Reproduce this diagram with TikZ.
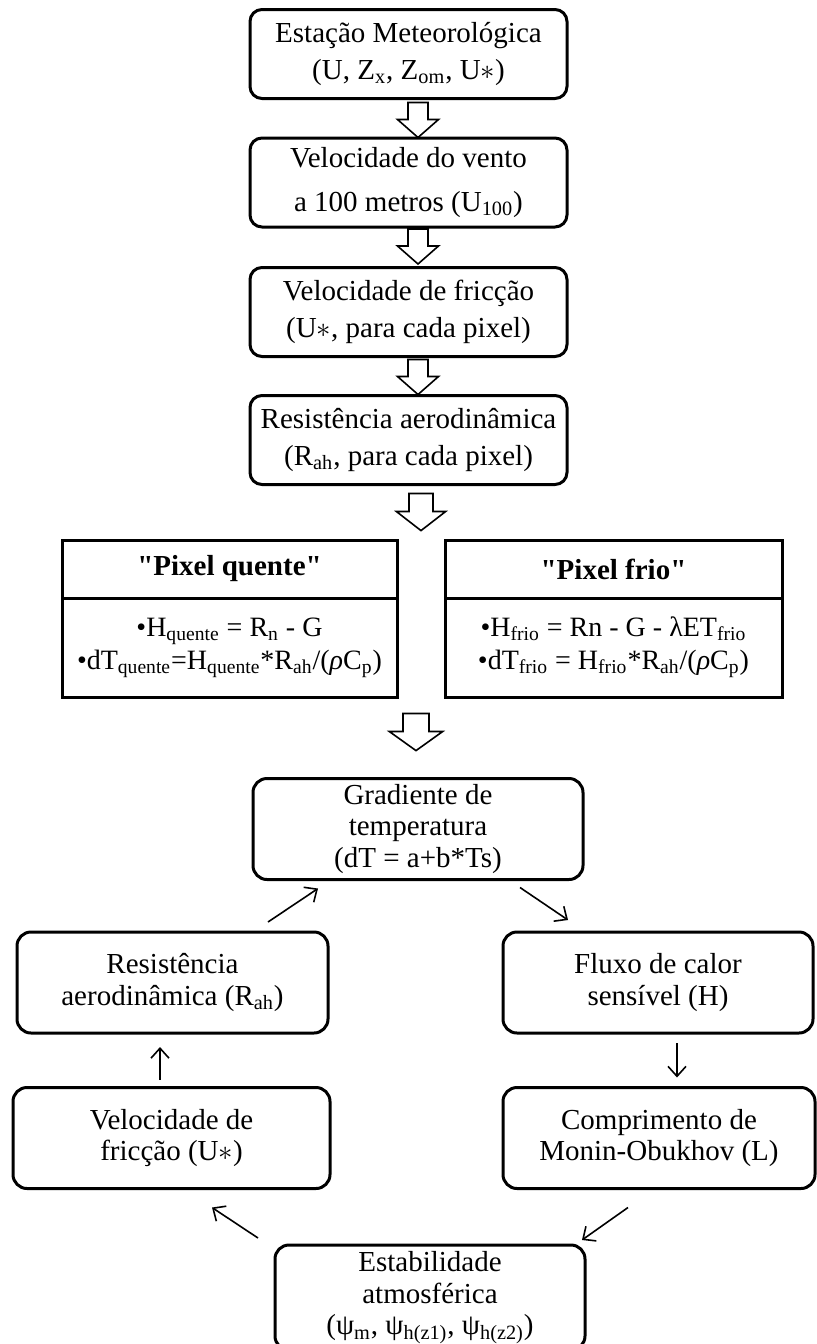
\documentclass[tikz,border=0pt]{standalone}
\usepackage{fontspec}
\setmainfont{Liberation Serif}
\usetikzlibrary{positioning, arrows.meta, calc}

\newcommand{\low}[1]{\textsubscript{#1}}
\newcommand{\ustar}{U$\ast$}

\begin{document}
\begin{tikzpicture}[x=0.5pt, y=-0.5pt]
\tikzset{
	stepbox/.style={draw, line width=1.5pt, rounded corners=6pt, align=center, inner sep=0pt, outer sep=0pt, minimum width=158.5pt, minimum height=44.5pt, font=\fontsize{14.5pt}{18.5pt}\selectfont},
	loopbox/.style={draw, line width=1.5pt, rounded corners=7pt, align=center, inner sep=0pt, outer sep=0pt, minimum height=50.5pt, font=\fontsize{14.5pt}{15.8pt}\selectfont},
	headbox/.style={draw, line width=1.5pt, align=center, inner sep=0pt, outer sep=0pt, minimum height=29pt, font=\bfseries\fontsize{14.5pt}{17pt}\selectfont},
	bodybox/.style={draw, line width=1.5pt, align=center, inner sep=0pt, outer sep=0pt, minimum height=49.5pt, font=\fontsize{14pt}{16.5pt}\selectfont},
	flow/.style={line width=0.8pt, -{Straight Barb[length=5pt, width=9pt]}},
	hollow/.pic={\draw[line width=0.8pt, fill=white] (-10,0) -- (10,0) -- (10,17) -- (20.5,17) -- (0,35) -- (-20.5,17) -- (-10,17) -- cycle;}
}
\useasboundingbox (0,0) rectangle (816,1344);

% coluna de cima
\node[stepbox] (est) at (408.5,54) {Estação Meteorológica\\(U, Z\low{x}, Z\low{om}, \ustar)};
\node[stepbox] (vento) at (408.5,182.5) {Velocidade do vento\\[3.5pt]a 100 metros\ (U\low{100})};
\node[stepbox] (fric) at (408.5,312) {Velocidade de fricção\\(\ustar, para cada pixel)};
\node[stepbox] (res) at (408.5,440) {Resistência aerodinâmica\\(R\low{ah}, para cada pixel)};

\pic at ([xshift=4.75pt,yshift=-2pt]est.south) {hollow};
\pic at ([xshift=4.75pt,yshift=-1pt]vento.south) {hollow};
\pic at ([xshift=4.75pt,yshift=-1.5pt]fric.south) {hollow};
\pic[xscale=1.2, yscale=1.06] at ([xshift=6.25pt,yshift=-4.5pt]res.south) {hollow};

% pixel quente / pixel frio
\node[headbox, minimum width=167.5pt] (qhead) at (229.5,569) {\textquotedbl Pixel quente\textquotedbl};
\node[bodybox, minimum width=167.5pt, below=0pt of qhead] (qbody) {\textbullet H\low{quente} = R\low{n} - G\\\textbullet dT\low{quente}=H\low{quente}*R\low{ah}/(\textit{ρ}C\low{p})};
\node[headbox, minimum width=168.5pt] (fhead) at (613.5,569) {\textquotedbl Pixel frio\textquotedbl};
\node[bodybox, minimum width=168.5pt, below=0pt of fhead] (fbody) {\textbullet H\low{frio} = Rn - G - λET\low{frio}\\\textbullet dT\low{frio} = H\low{frio}*R\low{ah}/(\textit{ρ}C\low{p})};

% ciclo iterativo
\node[loopbox, minimum width=165pt] (grad) at (418,829) {Gradiente de\\temperatura\\(dT = a+b*Ts)};
\node[loopbox, minimum width=155.5pt] (rah) at (172.5,982.5) {Resistência\\aerodinâmica\ (R\low{ah})};
\node[loopbox, minimum width=155pt] (flux) at (658,982.5) {Fluxo de calor\\sensível (H)};
\node[loopbox, minimum width=158.5pt] (vel) at (171.5,1138) {Velocidade de\\fricção (\ustar)};
\node[loopbox, minimum width=156pt] (comp) at (659,1138) {Comprimento de\\Monin-Obukhov (L)};
\node[loopbox, minimum width=155pt, minimum height=52.5pt, anchor=north] (estab) at (430,1245) {Estabilidade\\atmosférica\\(ψ\low{m}, ψ\low{h(z1)}, ψ\low{h(z2)})};

\pic[xscale=1.3, yscale=1.06] at ([xshift=-1pt,yshift=32.5pt]grad.north) {hollow};

\draw[flow] ([xshift=-30pt,yshift=5pt]rah.north east) -- ([xshift=32.5pt,yshift=-4.5pt]grad.south west);
\draw[flow] ([xshift=-31.5pt,yshift=-4pt]grad.south east) -- ([xshift=32.5pt,yshift=6pt]flux.north west);
\draw[flow] ([xshift=9.5pt,yshift=-5pt]flux.south) -- ([xshift=9pt,yshift=5pt]comp.north);
\draw[flow] ([xshift=62.5pt,yshift=-9.5pt]comp.south west) -- ([xshift=-1.5pt,yshift=2.5pt]estab.north east);
\draw[flow] ([xshift=-8.5pt,yshift=3.5pt]estab.north west) -- ([xshift=-59pt,yshift=-9.5pt]vel.south east);
\draw[flow] ([xshift=-5.75pt,yshift=4pt]vel.north) -- ([xshift=-6.25pt,yshift=-7pt]rah.south);
\end{tikzpicture}
\end{document}
